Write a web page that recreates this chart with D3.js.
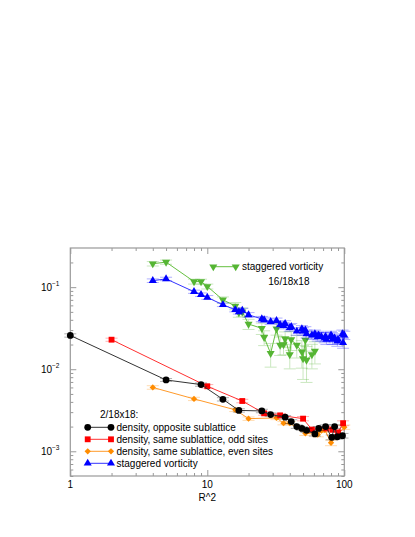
<!DOCTYPE html>
<html>
<head>
<meta charset="utf-8">
<script src="https://cdn.jsdelivr.net/npm/d3@7"></script>
<style>
  body { margin: 0; background: #fff; }
  text { font-family: "Liberation Sans", Arial, sans-serif; }
</style>
</head>
<body>
<svg></svg>
<script>
const svgWidth = 415
const svgHeight = 537
const frame = { left: 70.3, right: 344.3, top: 248, bottom: 476 }

// R^2 values and correlations
const blackR2 = [1, 5, 9, 13, 17, 25, 29, 37, 41, 45, 49, 53, 61, 65, 73, 81, 85, 89, 97]
const blackVal = [0.0258, 0.0074, 0.0065, 0.0043, 0.00315, 0.0031, 0.0028, 0.0026, 0.0023, 0.0020, 0.0019, 0.0018, 0.00163, 0.0019, 0.0020, 0.00148, 0.0020, 0.0015, 0.00155]
const blackErr = [0.0012, 0.0003, 0.0003, 0.0002, 0.00015, 0.00015, 0.00013, 0.00012, 0.00012, 0.0001, 0.0001, 0.0001, 0.0001, 0.0001, 0.0001, 0.0001, 0.0001, 0.0001, 0.0001]

const redR2 = [2, 10, 18, 26, 34, 50, 58, 74, 82, 90, 98]
const redVal = [0.0229, 0.0062, 0.0041, 0.0029, 0.00274, 0.0025, 0.00184, 0.0019, 0.00183, 0.0017, 0.0022]
const redErr = [0.001, 0.0003, 0.0002, 0.00015, 0.00015, 0.00015, 0.0001, 0.0001, 0.0001, 0.0001, 0.00015]

const orangeR2 = [4, 8, 16, 20, 32, 36, 40, 52, 64, 68, 72, 80, 100]
const orangeVal = [0.0060, 0.00435, 0.0032, 0.0025, 0.00255, 0.0022, 0.0022, 0.00166, 0.0016, 0.00179, 0.00183, 0.00127, 0.00197]
const orangeErr = [0.0003, 0.0002, 0.00015, 0.00012, 0.00012, 0.0001, 0.0001, 0.0001, 0.0001, 0.0001, 0.0001, 0.0001, 0.00012]

const blueR2 = [4, 5, 8, 9, 10, 13, 16, 17, 18, 20, 25, 26, 29, 32, 34, 36, 37, 40, 41, 45, 49, 50, 52, 53, 58, 61, 64, 65, 68, 72, 73, 74, 80, 81, 82, 85, 89, 90, 97, 98, 100]
const blueVal = [0.120, 0.126, 0.088, 0.081, 0.075, 0.061, 0.053, 0.050, 0.052, 0.046, 0.041, 0.040, 0.038, 0.039, 0.035, 0.034, 0.036, 0.032, 0.033, 0.029, 0.031, 0.029, 0.030, 0.027, 0.026, 0.027, 0.025, 0.026, 0.025, 0.024, 0.025, 0.023, 0.026, 0.025, 0.023, 0.024, 0.022, 0.023, 0.027, 0.021, 0.026]
const blueErr = [0.006, 0.006, 0.004, 0.004, 0.004, 0.003, 0.003, 0.003, 0.003, 0.003, 0.003, 0.003, 0.003, 0.003, 0.003, 0.003, 0.003, 0.003, 0.003, 0.003, 0.003, 0.003, 0.003, 0.003, 0.003, 0.003, 0.003, 0.003, 0.003, 0.003, 0.003, 0.003, 0.003, 0.003, 0.003, 0.003, 0.003, 0.003, 0.003, 0.003, 0.003]

const greenR2 = [4, 5, 8, 9, 10, 13, 16, 17, 18, 20, 25, 26, 29, 32, 34, 36, 37, 40, 41, 45, 49, 50, 52, 53, 58, 61]
const greenVal = [0.193, 0.202, 0.117, 0.117, 0.102, 0.070, 0.059, 0.049, 0.050, 0.0355, 0.0315, 0.0244, 0.0156, 0.031, 0.0197, 0.020, 0.0235, 0.0151, 0.0229, 0.0197, 0.0163, 0.0135, 0.0226, 0.0129, 0.0151, 0.0166]
const greenErr = [0.012, 0.012, 0.008, 0.008, 0.007, 0.006, 0.006, 0.006, 0.006, 0.005, 0.005, 0.005, 0.005, 0.005, 0.005, 0.005, 0.005, 0.005, 0.006, 0.006, 0.006, 0.006, 0.006, 0.006, 0.005, 0.005]

const xMajor = [1, 10, 100]
const yMajor = [1e-3, 1e-2, 1e-1]
const yExponents = ["−3", "−2", "−1"]

const svg = d3.select("svg")
    .attr("width", svgWidth)
    .attr("height", svgHeight)

const xScale = d3.scaleLog().domain([1, 100]).range([frame.left, frame.right])
const yScale = d3.scaleLog().domain([5e-4, 0.3]).range([frame.bottom, frame.top])

// minor ticks
const xMinor = []
for (const dec of [1, 10]) for (let k = 2; k <= 9; k++) xMinor.push(dec * k)
const yMinor = []
for (const dec of [1e-4, 1e-3, 1e-2, 1e-1]) for (let k = 2; k <= 9; k++) {
    const v = dec * k
    if (v >= 5e-4 && v <= 0.3 && !yMajor.includes(v)) yMinor.push(v)
}

const axisColor = "#999"
function styleAxis(g) {
    g.select(".domain").remove()
    g.selectAll("line").attr("stroke", axisColor)
    g.selectAll("text").remove()
}
svg.append("g").attr("transform", `translate(0,${frame.bottom})`)
    .call(d3.axisBottom(xScale).tickValues(xMinor).tickSize(-3)).call(styleAxis)
svg.append("g").attr("transform", `translate(0,${frame.bottom})`)
    .call(d3.axisBottom(xScale).tickValues(xMajor).tickSize(-6)).call(styleAxis)
svg.append("g").attr("transform", `translate(0,${frame.top})`)
    .call(d3.axisTop(xScale).tickValues(xMinor).tickSize(-3)).call(styleAxis)
svg.append("g").attr("transform", `translate(0,${frame.top})`)
    .call(d3.axisTop(xScale).tickValues(xMajor).tickSize(-6)).call(styleAxis)
svg.append("g").attr("transform", `translate(${frame.left},0)`)
    .call(d3.axisLeft(yScale).tickValues(yMinor).tickSize(-3)).call(styleAxis)
svg.append("g").attr("transform", `translate(${frame.left},0)`)
    .call(d3.axisLeft(yScale).tickValues(yMajor).tickSize(-6)).call(styleAxis)
svg.append("g").attr("transform", `translate(${frame.right},0)`)
    .call(d3.axisRight(yScale).tickValues(yMinor).tickSize(-3)).call(styleAxis)
svg.append("g").attr("transform", `translate(${frame.right},0)`)
    .call(d3.axisRight(yScale).tickValues(yMajor).tickSize(-6)).call(styleAxis)

svg.append("rect")
    .attr("x", frame.left)
    .attr("y", frame.top)
    .attr("width", frame.right - frame.left)
    .attr("height", frame.bottom - frame.top)
    .attr("fill", "none")
    .attr("stroke", axisColor)
    .attr("stroke-width", 1.2)

// tick labels
svg.selectAll(".xlab").data(xMajor).join("text")
    .attr("x", (d) => xScale(d))
    .attr("y", 488)
    .attr("text-anchor", "middle")
    .attr("font-size", 10)
    .text((d) => d)

const ylab = svg.selectAll(".ylab").data(yMajor).join("text")
    .attr("x", 59.5)
    .attr("y", (d) => yScale(d) + 4)
    .attr("text-anchor", "end")
    .attr("font-size", 10)
ylab.append("tspan").text("10")
ylab.append("tspan").attr("dy", -5).attr("font-size", 6.5).text((d, i) => yExponents[i])

svg.append("text")
    .text("R^2")
    .attr("x", (frame.left + frame.right) / 2)
    .attr("y", 501)
    .attr("text-anchor", "middle")
    .attr("font-size", 10)

const series = [
    { r2: greenR2, val: greenVal, err: greenErr, color: "#55b533", line: "#66c040", symbol: d3.symbolTriangle, size: 28, rot: 180 },
    { r2: blueR2, val: blueVal, err: blueErr, color: "#0000ff", line: "#3333ff", symbol: d3.symbolTriangle, size: 28, rot: 0 },
    { r2: orangeR2, val: orangeVal, err: orangeErr, color: "#ff8c00", line: "#ff9a2a", symbol: d3.symbolSquare, size: 20, rot: 45 },
    { r2: redR2, val: redVal, err: redErr, color: "#ff0000", line: "#ff3030", symbol: d3.symbolSquare, size: 34, rot: 0 },
    { r2: blackR2, val: blackVal, err: blackErr, color: "#000000", line: "#333333", symbol: d3.symbolCircle, size: 36, rot: 0 }
]

const plot = svg.append("g")
const line = d3.line().x((d) => xScale(d[0])).y((d) => yScale(d[1]))

series.forEach((s) => {
    const pts = s.r2.map((r, i) => [r, s.val[i], s.err[i]])
    const g = plot.append("g")
    // error bars
    const eb = g.selectAll(".eb").data(pts).join("g").attr("opacity", 0.3)
    eb.append("line")
        .attr("x1", (d) => xScale(d[0])).attr("x2", (d) => xScale(d[0]))
        .attr("y1", (d) => yScale(d[1] + d[2])).attr("y2", (d) => yScale(Math.max(d[1] - d[2], 1e-5)))
        .attr("stroke", s.color)
    eb.append("line")
        .attr("x1", (d) => xScale(d[0]) - 6).attr("x2", (d) => xScale(d[0]) + 6)
        .attr("y1", (d) => yScale(d[1] + d[2])).attr("y2", (d) => yScale(d[1] + d[2]))
        .attr("stroke", s.color)
    eb.append("line")
        .attr("x1", (d) => xScale(d[0]) - 6).attr("x2", (d) => xScale(d[0]) + 6)
        .attr("y1", (d) => yScale(d[1] - d[2])).attr("y2", (d) => yScale(d[1] - d[2]))
        .attr("stroke", s.color)
    g.append("path")
        .datum(pts)
        .attr("d", line)
        .attr("fill", "none")
        .attr("stroke", s.line)
        .attr("stroke-width", 1)
    g.selectAll(".pt").data(pts).join("path")
        .attr("d", d3.symbol().type(s.symbol).size(s.size))
        .attr("transform", (d) => `translate(${xScale(d[0])},${yScale(d[1])}) rotate(${s.rot})`)
        .attr("fill", s.color)
})

// legends
function legendRow(s, x1, x2, y, label, tx) {
    svg.append("line")
        .attr("x1", x1).attr("x2", x2).attr("y1", y).attr("y2", y)
        .attr("stroke", s.line).attr("stroke-width", 1)
    for (const x of [x1, x2]) {
        svg.append("path")
            .attr("d", d3.symbol().type(s.symbol).size(s.size))
            .attr("transform", `translate(${x},${y}) rotate(${s.rot})`)
            .attr("fill", s.color)
    }
    svg.append("text")
        .text(label)
        .attr("x", tx)
        .attr("y", y + 3.5)
        .attr("font-size", 10)
}

legendRow(series[0], 213.3, 235.7, 266.7, "staggered vorticity", 242)
svg.append("text").text("16/18x18").attr("x", 268.3).attr("y", 284.5).attr("font-size", 10)

svg.append("text").text("2/18x18:").attr("x", 100).attr("y", 417.5).attr("font-size", 10)
legendRow(series[4], 87.7, 111, 427.3, "density, opposite sublattice", 116.5)
legendRow(series[3], 87.7, 111, 439.3, "density, same sublattice, odd sites", 116.5)
legendRow(series[2], 87.7, 111, 451.3, "density, same sublattice, even sites", 116.5)
legendRow(series[1], 87.7, 111, 463.3, "staggered vorticity", 116.5)
</script>
</body>
</html>
